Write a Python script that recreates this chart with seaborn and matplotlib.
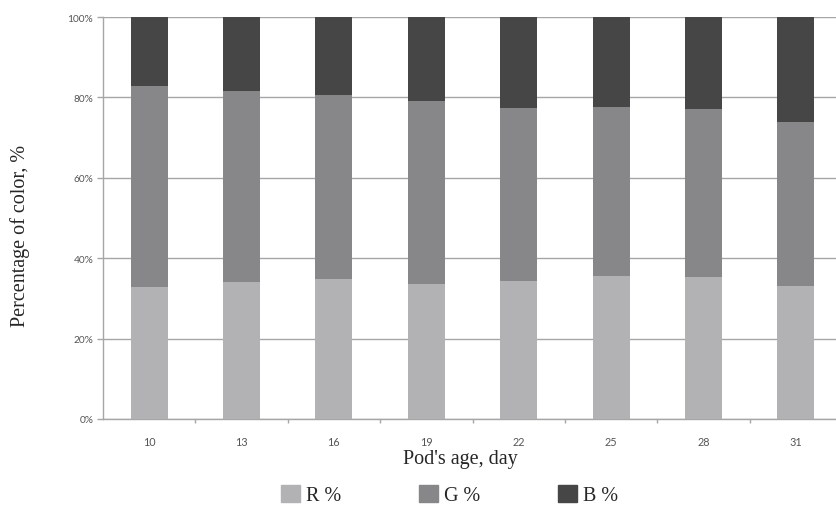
import matplotlib
matplotlib.use("Agg")
import matplotlib.pyplot as plt
import seaborn as sns
import pandas as pd
from matplotlib.patches import Patch
from matplotlib.ticker import FixedLocator, PercentFormatter

# values (percent of each colour channel)
days = ["10", "13", "16", "19", "22", "25", "28", "31"]
r_pct = [32.8, 34.1, 34.8, 33.6, 34.3, 35.6, 35.3, 33.0]
g_pct = [50.0, 47.5, 45.8, 45.5, 43.1, 42.0, 41.8, 40.9]
b_pct = [17.2, 18.4, 19.4, 20.9, 22.6, 22.4, 22.9, 26.1]

df = pd.DataFrame({"day": days, "R": r_pct, "G": g_pct, "B": b_pct})
df["RG"] = df["R"] + df["G"]
df["RGB"] = df["RG"] + df["B"]

c_r, c_g, c_b = "#b2b2b4", "#878789", "#464646"

sns.set_style("white")
plt.rcParams["font.family"] = ["Lato", "DejaVu Sans"]

fig = plt.figure(figsize=(8.36, 5.06), dpi=100)
ax = fig.add_axes([0.1232, 0.170, 0.884, 0.7944])

# stacked bars drawn as overlapping cumulative totals
sns.barplot(data=df, x="day", y="RGB", color=c_b, width=0.4, saturation=1, linewidth=0, ax=ax, zorder=3)
sns.barplot(data=df, x="day", y="RG", color=c_g, width=0.4, saturation=1, linewidth=0, ax=ax, zorder=3)
sns.barplot(data=df, x="day", y="R", color=c_r, width=0.4, saturation=1, linewidth=0, ax=ax, zorder=3)

ax.set_xlim(-0.5, len(days) - 0.5)
ax.set_ylim(0, 100)
ax.set_yticks([0, 20, 40, 60, 80, 100])
ax.yaxis.set_major_formatter(PercentFormatter(decimals=0))
ax.grid(axis="y", color="#a6a6a6", linewidth=1.0, zorder=0)
ax.set_axisbelow(True)

for s in ["top", "right"]:
    ax.spines[s].set_visible(False)
for s in ["left", "bottom"]:
    ax.spines[s].set_color("#a6a6a6")
    ax.spines[s].set_linewidth(1.0)

ax.tick_params(axis="x", which="major", bottom=False, labelsize=7.8, labelcolor="#555555", pad=9)
ax.tick_params(axis="y", which="major", left=True, length=4, width=1, color="#a6a6a6",
               labelsize=7.3, labelcolor="#555555", pad=3)
ax.xaxis.set_minor_locator(FixedLocator([i + 0.5 for i in range(len(days))]))
ax.tick_params(axis="x", which="minor", bottom=True, length=3, width=1, color="#a6a6a6", direction="out")

ax.set_xlabel("")
ax.set_ylabel("")
fig.text(0.551, 0.091, "Pod's age, day", family="Liberation Serif", fontsize=14.5,
         ha="center", va="center")
fig.text(0.024, 0.533, "Percentage of color, %", family="Liberation Serif", fontsize=14.5,
         ha="center", va="center", rotation=90)

handles = [Patch(color=c_r, label="R %"), Patch(color=c_g, label="G %"), Patch(color=c_b, label="B %")]
fig.legend(handles=handles, loc="center", bbox_to_anchor=(0.538, 0.02), ncol=3, frameon=False,
           prop={"family": "Liberation Serif", "size": 14.5}, handlelength=0.95, handleheight=0.95,
           handletextpad=0.3, columnspacing=3.85, borderaxespad=0)

fig.savefig("out.png", dpi=100)
